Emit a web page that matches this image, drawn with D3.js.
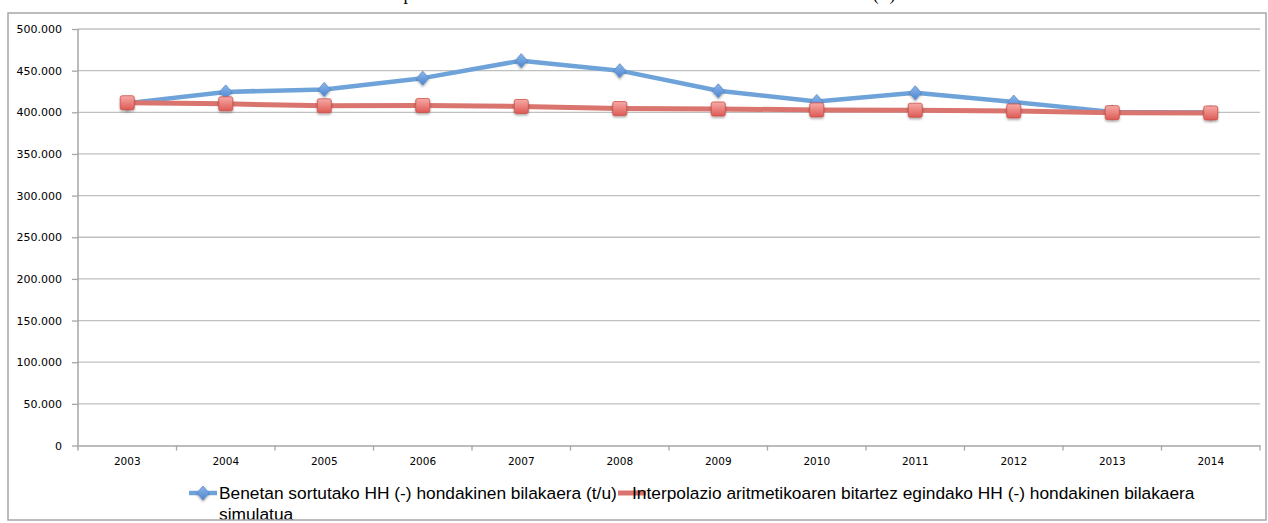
<!DOCTYPE html>
<meta charset="utf-8">
<title>HH (-) hondakinen bilakaera</title>
<style>
body { margin:0; background:#fff; }
svg { display:block; }
.tick text { font-family: "DejaVu Sans", sans-serif; fill:#000; }
.grid line { stroke:#c0c0c0; stroke-width:1.3px; }
.legend text { font-family: "Liberation Sans", Arial, sans-serif; fill:#000; }
</style>
<body>
<div id="container"></div>

<script src="https://cdn.jsdelivr.net/npm/d3@7"></script>
<script>
var years = ["2003","2004","2005","2006","2007","2008","2009","2010","2011","2012","2013","2014"];
var actual = [411000, 424500, 427500, 441000, 462000, 450000, 425800, 413000, 423400, 412300, 400500, 399800];
var simulated = [411500, 410200, 407800, 408200, 407000, 404500, 404000, 402900, 402500, 401600, 399600, 399200];
var yTicks = [0, 50000, 100000, 150000, 200000, 250000, 300000, 350000, 400000, 450000, 500000];
var seriesNames = ["Benetan sortutako HH (-) hondakinen bilakaera (t/u)",
                   "Interpolazio aritmetikoaren bitartez egindako HH (-) hondakinen bilakaera",
                   "simulatua"];
var title = "Benetan sortutako eta interpolazio aritmetikoaren bitartez simulatutako HH (-) hondakinen bilakaera";

var width = 1268, height = 523;
var plotLeft = 78, plotRight = 1260, plotTop = 29, plotBottom = 445.5;

var fmt = d3.formatLocale({decimal: ",", thousands: ".", grouping: [3], currency: ["", ""]}).format(",");

var svg = d3.select("#container").append("svg")
    .attr("width", width)
    .attr("height", height);

var defs = svg.append("defs");
var rg = defs.append("linearGradient").attr("id", "redg").attr("x1", 0).attr("y1", 0).attr("x2", 0).attr("y2", 1);
rg.append("stop").attr("offset", "0%").attr("stop-color", "#f7aaa6");
rg.append("stop").attr("offset", "100%").attr("stop-color", "#de5a55");
var bg = defs.append("linearGradient").attr("id", "blueg").attr("x1", 0).attr("y1", 0).attr("x2", 0).attr("y2", 1);
bg.append("stop").attr("offset", "0%").attr("stop-color", "#8db6ea");
bg.append("stop").attr("offset", "100%").attr("stop-color", "#4d86d2");
var sh = defs.append("filter").attr("id", "shadow").attr("x", "-50%").attr("y", "-50%").attr("width", "200%").attr("height", "200%");
sh.append("feDropShadow").attr("dx", 0).attr("dy", 1.5).attr("stdDeviation", 1.2).attr("flood-color", "#000").attr("flood-opacity", 0.35);

// title, mostly cut off by the top of the picture
svg.append("text")
    .attr("x", 625).attr("y", 0)
    .attr("text-anchor", "middle")
    .attr("textLength", 960)
    .attr("lengthAdjust", "spacing")
    .style("font-family", "Liberation Serif, serif")
    .style("font-size", "18px")
    .text(title);

var x = d3.scaleBand().domain(years).range([plotLeft, plotRight]);
var y = d3.scaleLinear().domain([0, 500000]).range([plotBottom, plotTop]);

// gridlines
svg.append("g").attr("class", "grid")
  .selectAll("line").data(yTicks.filter(function(d){ return d > 0; }))
  .enter().append("line")
    .attr("x1", plotLeft).attr("x2", plotRight)
    .attr("y1", function(d){ return y(d); })
    .attr("y2", function(d){ return y(d); });

// y axis
var yAxis = svg.append("g")
    .attr("transform", "translate(" + plotLeft + ",0)")
    .call(d3.axisLeft(y).tickValues(yTicks).tickFormat(fmt).tickSize(6).tickPadding(10).tickSizeOuter(0));
yAxis.selectAll("text").style("font-size", "11px");
yAxis.selectAll("line").attr("stroke", "#a6a6a6").attr("stroke-width", 1.3);
yAxis.select(".domain").attr("stroke", "#a6a6a6").attr("stroke-width", 1.5)
    .attr("d", "M0," + (plotBottom + 5) + "V" + plotTop);

// x axis
var xAxis = svg.append("g")
    .attr("transform", "translate(0," + plotBottom + ")")
    .call(d3.axisBottom(x).tickSize(0).tickPadding(12).tickSizeOuter(0));
xAxis.selectAll("text").style("font-size", "10.5px");
xAxis.select(".domain").attr("stroke", "#a6a6a6").attr("stroke-width", 1.5);
xAxis.selectAll(".bound").data(years.slice(1).concat(["end"]))
  .enter().append("line")
    .attr("x1", function(d){ return d === "end" ? plotRight : x(d); })
    .attr("x2", function(d){ return d === "end" ? plotRight : x(d); })
    .attr("y1", 0).attr("y2", 5)
    .attr("stroke", "#a6a6a6").attr("stroke-width", 1.3);

var cx = function(d, i){ return x(years[i]) + x.bandwidth() / 2; };

var line = d3.line()
    .x(function(d, i){ return cx(d, i); })
    .y(function(d){ return y(d); });

function diamond(g, px, py) {
  g.append("path")
    .attr("d", "M" + px + "," + (py - 7) + "L" + (px + 6) + "," + py + "L" + px + "," + (py + 7) + "L" + (px - 6) + "," + py + "Z")
    .attr("fill", "url(#blueg)")
    .attr("stroke", "#5a8ccc").attr("stroke-width", 0.8)
    .attr("filter", "url(#shadow)");
}
function square(g, px, py) {
  g.append("rect")
    .attr("x", px - 7).attr("y", py - 7)
    .attr("width", 14).attr("height", 14)
    .attr("rx", 2)
    .attr("fill", "url(#redg)")
    .attr("stroke", "#c9504b").attr("stroke-width", 0.8)
    .attr("filter", "url(#shadow)");
}

// blue series
svg.append("path").datum(actual)
    .attr("d", line)
    .attr("fill", "none")
    .attr("stroke", "#6ea3d9")
    .attr("stroke-width", 4.5)
    .attr("stroke-linejoin", "round");
var gb = svg.append("g");
actual.forEach(function(d, i){ diamond(gb, cx(d, i), y(d)); });

// red series
svg.append("path").datum(simulated)
    .attr("d", line)
    .attr("fill", "none")
    .attr("stroke", "#d9746e")
    .attr("stroke-width", 5)
    .attr("stroke-linejoin", "round");
var gr = svg.append("g");
simulated.forEach(function(d, i){ square(gr, cx(d, i), y(d)); });

// legend
var legend = svg.append("g").attr("class", "legend");
var t1 = legend.append("text").attr("x", 219).attr("y", 499).style("font-size", "16px").text(seriesNames[0]);
var w1 = t1.node().getComputedTextLength();
var fs = 16 * 398 / w1;
t1.style("font-size", fs + "px");

legend.append("line").attr("x1", 189).attr("x2", 217).attr("y1", 493).attr("y2", 493)
    .attr("stroke", "#6ea3d9").attr("stroke-width", 4.5);
diamond(legend, 203, 493);

legend.append("line").attr("x1", 618).attr("x2", 646).attr("y1", 493).attr("y2", 493)
    .attr("stroke", "#d9746e").attr("stroke-width", 5);
legend.append("text").attr("x", 632).attr("y", 499).style("font-size", fs + "px").text(seriesNames[1]);
legend.append("text").attr("x", 219).attr("y", 520).style("font-size", fs + "px").text(seriesNames[2]);

// chart border
svg.append("rect")
    .attr("x", 8).attr("y", 13)
    .attr("width", 1258).attr("height", 507)
    .attr("fill", "none")
    .attr("stroke", "#a6a6a6")
    .attr("stroke-width", 1.5);
</script>
</body>
</html>
